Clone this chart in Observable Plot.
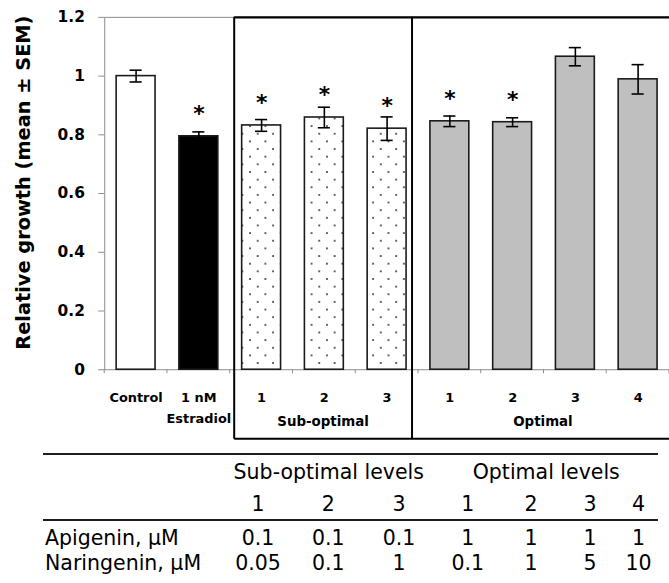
<!DOCTYPE html>
<html><head><meta charset="utf-8">
<script src="https://cdn.jsdelivr.net/npm/d3@7"></script>
<script src="https://cdn.jsdelivr.net/npm/@observablehq/plot@0.6"></script>
<style>
html,body{margin:0;padding:0;background:#fff;overflow:hidden;width:669px;height:583px}
#wrap{position:relative;width:669px;height:583px;overflow:hidden}
#wrap svg{position:absolute;left:0;top:0}
.hline{position:absolute;left:43px;width:615px;height:2px;background:#1e1e1e}
#tbl{position:absolute;left:43px;top:455px;border-collapse:collapse;table-layout:fixed;width:615px;
  font-family:"DejaVu Sans";font-size:20.5px;color:#000;border-spacing:0}
#tbl td{padding:0;white-space:nowrap;text-align:center;overflow:visible;vertical-align:middle}
#tbl td.lab{text-align:left;padding-left:2px}
</style></head><body><div id="wrap"></div>
<script>
// ---- data ----
const keys = ["Control","E2","S1","S2","S3","O1","O2","O3","O4"];
const labels = ["Control","1 nM\nEstradiol","1","2","3","1","2","3","4"];
const groups = ["control","estradiol","sub","sub","sub","opt","opt","opt","opt"];
const means = [1.00, 0.795, 0.832, 0.859, 0.821, 0.846, 0.843, 1.066, 0.989];
const sems  = [0.02, 0.015, 0.02, 0.035, 0.04, 0.018, 0.015, 0.031, 0.05];
const significant = [false,true,true,true,true,true,true,false,false];
const yTicks = [0,0.2,0.4,0.6,0.8,1,1.2];
const boxNames = ["Sub-optimal","Optimal"];
const tableHeads = ["Sub-optimal levels","Optimal levels"];
const tableLevels = ["1","2","3","1","2","3","4"];
const rowNames = ["Apigenin, µM","Naringenin, µM"];
const apigenin = ["0.1","0.1","0.1","1","1","1","1"];
const naringenin = ["0.05","0.1","1","0.1","1","5","10"];

// ---- styles ----
const groupFill = {control:"#ffffff", estradiol:"#000000", sub:"url(#dots)", opt:"#bfbfbf"};
const axisGray = "#8c8c8c";

const data = keys.map((k,i)=>({key:k,label:labels[i],group:groups[i],mean:means[i],sem:sems[i],sig:significant[i]}));

const chart = Plot.plot({
  width:674, height:450,
  marginLeft:105, marginRight:0, marginTop:17, marginBottom:78,
  style:{fontFamily:"DejaVu Sans", fontWeight:"bold", fontSize:"15.5px", color:"#000", background:"transparent"},
  x:{domain:keys, paddingInner:0.38, paddingOuter:0.19, round:false, axis:null},
  y:{domain:[0,1.2], ticks:yTicks, tickFormat:d=>String(+(+d).toFixed(1)), tickSize:6, tickPadding:14, label:null},
  color:{type:"identity"},
  marks:[
    Plot.frame({stroke:axisGray}),
    Plot.barY(data,{x:"key", y:"mean", fill:d=>groupFill[d.group], stroke:"#1a1a1a", strokeWidth:1.6}),
    Plot.ruleX(data,{x:"key", y1:d=>d.mean-d.sem, y2:d=>d.mean+d.sem, stroke:"#000", strokeWidth:1.6}),
    Plot.tickY(data,{x:"key", y:d=>d.mean+d.sem, insetLeft:13.5, insetRight:13.5, stroke:"#000", strokeWidth:1.6}),
    Plot.tickY(data,{x:"key", y:d=>d.mean-d.sem, insetLeft:13.5, insetRight:13.5, stroke:"#000", strokeWidth:1.6}),
    Plot.text(data.filter(d=>d.sig),{x:"key", y:"mean", text:()=>"*", lineAnchor:"bottom", dy:-15.7, fontSize:22, fontWeight:"bold", fill:"#000"}),
    Plot.text(data,{x:"key", y:()=>0, text:"label", lineAnchor:"top", dy:17, fontSize:13, fontWeight:"bold", lineHeight:1.65, fill:"#000"})
  ]
});

const svg = d3.select(chart);
// pattern
const pat = svg.append("defs").append("pattern").attr("id","dots")
  .attr("patternUnits","userSpaceOnUse").attr("width",15.5).attr("height",15.4);
pat.append("rect").attr("width",15.5).attr("height",15.4).attr("fill","#fff");
pat.append("circle").attr("cx",3.9).attr("cy",3.9).attr("r",0.95).attr("fill","#222");
pat.append("circle").attr("cx",11.65).attr("cy",11.6).attr("r",0.95).attr("fill","#222");

// axis styling (gray tick lines, black bold labels)
svg.selectAll('[aria-label^="y-axis"] line, [aria-label^="y-axis"] path').attr("stroke", axisGray);
svg.selectAll('[aria-label^="y-axis"] text').style("font-size","15.5px").style("font-weight","bold").attr("fill","#000");

const xs = chart.scale("x"), ys = chart.scale("y");
const edge = i => i < keys.length ? xs.apply(keys[i]) - (xs.step - xs.bandwidth)/2
                                  : xs.apply(keys[keys.length-1]) + xs.bandwidth + (xs.step - xs.bandwidth)/2;
const y0 = ys.apply(0), yTop = ys.apply(1.2);

// x tick marks at category boundaries
const g = svg.append("g");
for (let i = 0; i <= keys.length; i++) {
  g.append("line").attr("x1",edge(i)).attr("x2",edge(i)).attr("y1",y0).attr("y2",y0+4)
   .attr("stroke",axisGray).attr("stroke-width",1);
}

// group boxes
const bLeft = edge(keys.indexOf("S1")) + 4.5;
const bMid = edge(keys.indexOf("O1")) - 6;
const bRight = edge(keys.length) + 5;
const bBottom = y0 + 70;
const box = svg.append("g").attr("stroke","#000").attr("stroke-width",2).attr("fill","none");
box.append("line").attr("x1",bLeft).attr("x2",bRight).attr("y1",yTop+0.5).attr("y2",yTop+0.5).attr("stroke-width",2.4);
box.append("line").attr("x1",bLeft).attr("x2",bRight).attr("y1",bBottom).attr("y2",bBottom);
[bLeft,bMid].forEach(x=>box.append("line").attr("x1",x).attr("x2",x).attr("y1",yTop).attr("y2",bBottom));
[[bLeft,bMid],[bMid,bRight]].forEach(([a,b],i)=>{
  svg.append("text").attr("x",(a+b)/2).attr("y",y0+52).attr("dy","0.36em")
    .attr("text-anchor","middle").attr("font-size","13.5px").attr("font-weight","bold").attr("fill","#000")
    .text(boxNames[i]);
});

// y title
svg.append("text").attr("transform","translate(23,184) rotate(-90)").attr("dy","0.36em")
  .attr("text-anchor","middle").attr("font-size","19.5px").attr("font-weight","bold").attr("fill","#000")
  .text("Relative growth (mean ± SEM)");

const wrap = document.getElementById("wrap");
wrap.appendChild(chart);

// ---- table ----
const l1 = document.createElement("div"); l1.className="hline"; l1.style.top="453px"; wrap.appendChild(l1);
const l2 = document.createElement("div"); l2.className="hline"; l2.style.top="519px"; wrap.appendChild(l2);
const colW = [180,70,70.5,71,66.5,60,58,39];
const tbl = document.createElement("table"); tbl.id="tbl";
const cg = document.createElement("colgroup");
colW.forEach(w=>{const c=document.createElement("col"); c.style.width=w+"px"; cg.appendChild(c);});
tbl.appendChild(cg);
function row(h, cells){
  const tr=document.createElement("tr");
  cells.forEach(([txt,span,cls])=>{
    const td=document.createElement("td"); td.textContent=txt; if(span>1) td.colSpan=span; if(cls) td.className=cls;
    td.style.height=h+"px"; td.style.lineHeight=h+"px"; tr.appendChild(td);
  });
  tbl.appendChild(tr);
}
row(35, [["",1,"lab"],[tableHeads[0],3],[tableHeads[1],4]]);
row(29, [["",1,"lab"], ...tableLevels.map(t=>[t,1])]);
row(2,  [["",8]]);
row(34, [[rowNames[0],1,"lab"], ...apigenin.map(t=>[t,1])]);
row(16, [[rowNames[1],1,"lab"], ...naringenin.map(t=>[t,1])]);
wrap.appendChild(tbl);
</script>
</body></html>
